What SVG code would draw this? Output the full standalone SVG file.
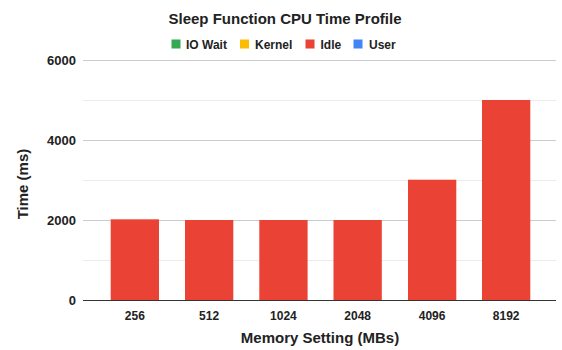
<svg xmlns="http://www.w3.org/2000/svg" width="562" height="350" viewBox="0 0 562 350">
  <style>
    text { font-family: "Liberation Sans", Arial, sans-serif; fill: #222222; }
    .title { font-size: 15px; font-weight: bold; text-anchor: middle; }
    .axis-title { font-size: 15px; font-weight: bold; text-anchor: middle; }
    .legend { font-size: 12px; font-weight: bold; }
    .ytick { font-size: 13px; font-weight: bold; text-anchor: end; }
    .xtick { font-size: 12px; font-weight: bold; text-anchor: middle; }
    .grid-major { stroke: #cccccc; stroke-width: 1; }
    .grid-minor { stroke: #ebebeb; stroke-width: 1; }
    .baseline { stroke: #333333; stroke-width: 1; }
    .bar { fill: #ea4335; }
  </style>

  <rect width="562" height="350" fill="#ffffff"/>

  <!-- Title -->
  <text class="title" x="285" y="24">Sleep Function CPU Time Profile</text>

  <!-- Legend -->
  <g id="legend">
    <rect x="171.5" y="39.5" width="9" height="9" fill="#34a853"/>
    <text class="legend" x="186" y="48.5">IO Wait</text>
    <rect x="240" y="39.5" width="9" height="9" fill="#fbbc04"/>
    <text class="legend" x="255" y="48.5">Kernel</text>
    <rect x="305.5" y="39.5" width="9" height="9" fill="#ea4335"/>
    <text class="legend" x="320.5" y="48.5">Idle</text>
    <rect x="353.5" y="39.5" width="9" height="9" fill="#4285f4"/>
    <text class="legend" x="369" y="48.5">User</text>
  </g>

  <!-- Gridlines -->
  <g id="grid">
    <line class="grid-minor" x1="83" y1="100.5" x2="556" y2="100.5"/>
    <line class="grid-minor" x1="83" y1="180.5" x2="556" y2="180.5"/>
    <line class="grid-minor" x1="83" y1="260.5" x2="556" y2="260.5"/>
    <line class="grid-major" x1="83" y1="60.5" x2="556" y2="60.5"/>
    <line class="grid-major" x1="83" y1="140.5" x2="556" y2="140.5"/>
    <line class="grid-major" x1="83" y1="220.5" x2="556" y2="220.5"/>
  </g>

  <!-- Y axis labels -->
  <g id="y-axis">
    <text class="ytick" x="76" y="65">6000</text>
    <text class="ytick" x="76" y="145">4000</text>
    <text class="ytick" x="76" y="225">2000</text>
    <text class="ytick" x="76" y="305">0</text>
    <text class="axis-title" transform="translate(27.5,184) rotate(-90)">Time (ms)</text>
  </g>

  <!-- Bars (Idle series) -->
  <g id="bars">
    <rect id="bar-256" class="bar" x="110.7" y="219.3" width="48.3" height="80.7"/>
    <rect id="bar-512" class="bar" x="185" y="220" width="48.3" height="80"/>
    <rect id="bar-1024" class="bar" x="259.3" y="220" width="48.3" height="80"/>
    <rect id="bar-2048" class="bar" x="333.5" y="220" width="48.3" height="80"/>
    <rect id="bar-4096" class="bar" x="408" y="179.7" width="48.3" height="120.3"/>
    <rect id="bar-8192" class="bar" x="482" y="100" width="48.3" height="200"/>
  </g>

  <!-- Baseline -->
  <line class="baseline" x1="83" y1="300.5" x2="556" y2="300.5"/>

  <!-- X axis labels -->
  <g id="x-axis">
    <text class="xtick" x="134.8" y="319.5">256</text>
    <text class="xtick" x="209.1" y="319.5">512</text>
    <text class="xtick" x="283.4" y="319.5">1024</text>
    <text class="xtick" x="357.7" y="319.5">2048</text>
    <text class="xtick" x="432.1" y="319.5">4096</text>
    <text class="xtick" x="506.2" y="319.5">8192</text>
    <text class="axis-title" x="320" y="343">Memory Setting (MBs)</text>
  </g>
</svg>
